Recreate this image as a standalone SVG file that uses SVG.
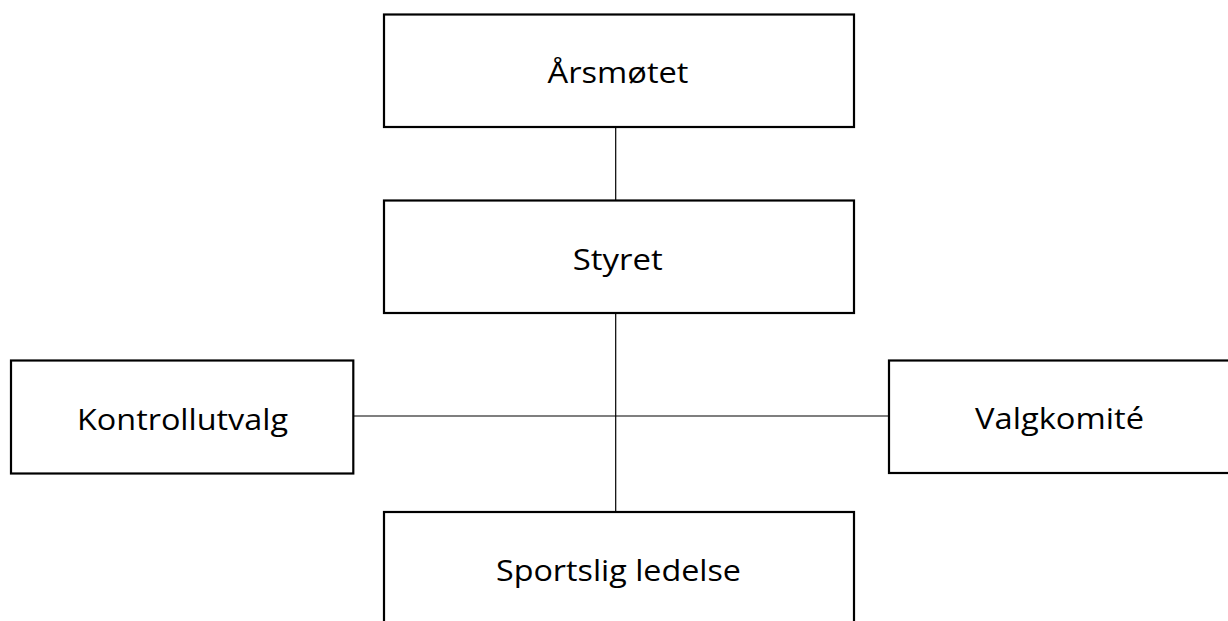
<svg xmlns="http://www.w3.org/2000/svg" width="1228" height="621" viewBox="0 0 1228 621">
<style>
.box{fill:#fff;stroke:#000;stroke-width:2.2}
.lbl{font-family:"Open Sans","Noto Sans","Liberation Sans",sans-serif;font-size:30px;fill:#000;text-anchor:middle}
.con{stroke:#000;stroke-width:1.2;fill:none}
</style>
<rect width="1228" height="621" fill="#fff"/>
<g id="connectors">
<line class="con" x1="615.7" y1="127" x2="615.7" y2="200"/>
<line class="con" x1="615.7" y1="313" x2="615.7" y2="512"/>
<line class="con" x1="353" y1="416" x2="889" y2="416"/>
</g>
<g id="arsmotet">
<rect class="box" x="384" y="14.5" width="470" height="112.5"/>
<text class="lbl" x="618" y="83" textLength="141" lengthAdjust="spacingAndGlyphs">Årsmøtet</text>
</g>
<g id="styret">
<rect class="box" x="384" y="200.5" width="470" height="112.5"/>
<text class="lbl" x="617.7" y="270" textLength="90" lengthAdjust="spacingAndGlyphs">Styret</text>
</g>
<g id="kontrollutvalg">
<rect class="box" x="11" y="360.5" width="342.3" height="113"/>
<text class="lbl" x="182.5" y="430" textLength="211" lengthAdjust="spacingAndGlyphs">Kontrollutvalg</text>
</g>
<g id="valgkomite">
<rect class="box" x="889" y="360.5" width="345" height="112.5"/>
<text class="lbl" x="1059.5" y="429" textLength="169" lengthAdjust="spacingAndGlyphs">Valgkomité</text>
</g>
<g id="sportslig-ledelse">
<rect class="box" x="384" y="512" width="470" height="120"/>
<text class="lbl" x="618.5" y="581" textLength="245" lengthAdjust="spacingAndGlyphs">Sportslig ledelse</text>
</g>
</svg>
